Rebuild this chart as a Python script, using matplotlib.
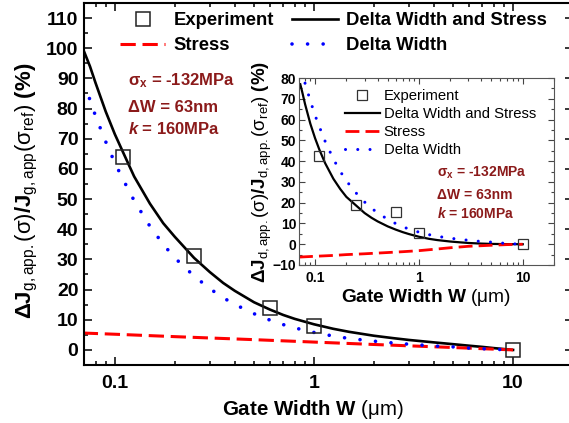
import numpy as np
import matplotlib
matplotlib.use("Agg")
import matplotlib.pyplot as plt
from matplotlib.ticker import MultipleLocator, LogLocator, FuncFormatter, NullFormatter

plt.rcParams['font.family'] = ['Liberation Sans', 'DejaVu Sans']
plt.rcParams['mathtext.fontset'] = 'custom'
plt.rcParams['mathtext.rm'] = 'Liberation Sans'
plt.rcParams['mathtext.bf'] = 'Liberation Sans:bold'
plt.rcParams['mathtext.it'] = 'Liberation Sans:italic'
plt.rcParams['mathtext.bfit'] = 'Liberation Sans:italic:bold'

# ---- main plot data (gate current) ----
main_w_exp = [0.11, 0.25, 0.6, 1.0, 10.0]
main_exp = [64, 31, 14, 8, 0]

main_w_total = [0.069, 0.075, 0.08, 0.09, 0.1, 0.11, 0.125, 0.15, 0.175, 0.2, 0.25, 0.3, 0.35, 0.4,
                0.5, 0.6, 0.7, 0.8, 1.0, 1.25, 1.5, 2.0, 2.5, 3.0, 4.0, 5.0, 6.0, 7.0, 8.0, 10.0]
main_total = [100, 94, 88.5, 79, 71.5, 65.5, 57.5, 48.5, 42, 37.5, 30.5, 25.8, 22.2, 19.6,
              15.8, 13.4, 11.6, 10.3, 8.5, 7.0, 6.0, 4.7, 3.9, 3.3, 2.5, 1.9, 1.4, 1.0, 0.6, 0]

main_w_stress = [0.069, 0.1, 0.2, 0.5, 1.0, 2.0, 5.0, 10.0]
main_stress = [5.6, 5.2, 4.4, 3.4, 2.6, 1.8, 0.8, 0]

main_w_dw = [0.069, 0.075, 0.08, 0.09, 0.1, 0.11, 0.125, 0.15, 0.175, 0.2, 0.25, 0.3, 0.35, 0.4,
             0.5, 0.6, 0.7, 0.8, 1.0, 1.25, 1.5, 2.0, 2.5, 3.0, 4.0, 5.0, 6.0, 7.0, 8.0, 10.0]
main_dw = [88, 83, 77.5, 69, 62, 56.5, 49.5, 41, 35, 30.5, 24.5, 20.3, 17.3, 15.1,
           12, 9.9, 8.4, 7.3, 5.8, 4.6, 3.8, 2.9, 2.3, 1.9, 1.3, 1.0, 0.6, 0.4, 0.2, 0]

# ---- inset data (drain current) ----
ins_w_exp = [0.11, 0.25, 0.6, 1.0, 10.0]
ins_exp = [42.6, 19, 15.5, 5.2, 0]

ins_w_total = [0.072, 0.075, 0.08, 0.09, 0.1, 0.11, 0.125, 0.15, 0.175, 0.2, 0.25, 0.3, 0.35, 0.4,
               0.5, 0.6, 0.7, 0.8, 1.0, 1.25, 1.5, 2.0, 2.5, 3.0, 4.0, 5.0, 7.0, 10.0]
ins_total = [77, 73.5, 67.5, 58, 51, 45.5, 39, 31.5, 26.5, 22.8, 18.5, 15, 12.7, 11,
             8.6, 7, 5.8, 4.9, 3.6, 2.6, 2.0, 1.3, 0.9, 0.6, 0.3, 0.15, 0.05, 0]

ins_w_stress = [0.07, 0.1, 0.15, 0.2, 0.3, 0.5, 0.7, 1.0, 1.5, 2.0, 3.0, 5.0, 7.0, 10.0]
ins_stress = [-6.2, -5.8, -5.4, -5.0, -4.6, -4.0, -3.6, -3.1, -2.3, -1.7, -1.0, -0.5, -0.2, 0]

ins_w_dw = [0.08, 0.09, 0.1, 0.11, 0.125, 0.15, 0.175, 0.2, 0.25, 0.3, 0.35, 0.4,
            0.5, 0.6, 0.7, 0.8, 1.0, 1.25, 1.5, 2.0, 2.5, 3.0, 4.0, 5.0, 6.0, 7.0, 8.0, 10.0]
ins_dw = [77.5, 69, 62, 56.5, 49.5, 41, 35, 30.5, 24.5, 20.3, 17.3, 15.1,
          12, 9.9, 8.4, 7.3, 5.8, 4.6, 3.8, 2.9, 2.3, 1.9, 1.3, 1.0, 0.6, 0.4, 0.2, 0]

dark_red = '#8B1A1A'

fig = plt.figure(figsize=(5.69, 4.23), dpi=100)
W, H = 569.0, 423.0

# main axes
ax = fig.add_axes([84 / W, 1 - 365 / H, 489 / W, 362 / H])
ax.plot(main_w_total, main_total, color='black', lw=1.9, label='Delta Width and Stress')
ax.plot(main_w_stress, main_stress, color='#FF0000', lw=2.2, dashes=(5, 2.2), label='Stress')
ax.plot(main_w_dw, main_dw, color='#0000FF', lw=2.6, dashes=(0.01, 4.3),
        dash_capstyle='round', label='Delta Width')
ax.plot(main_w_exp, main_exp, 's', ms=9.5, mfc='none', mec='#222222', mew=1.1, label='Experiment')

ax.set_xscale('log')
ax.set_xlim(0.07, 20)
ax.set_ylim(-5, 115)
ax.yaxis.set_major_locator(MultipleLocator(10))
ax.yaxis.set_minor_locator(MultipleLocator(5))
ax.xaxis.set_major_locator(LogLocator(base=10, numticks=10))
ax.xaxis.set_minor_locator(LogLocator(base=10, subs=np.arange(2, 10), numticks=10))
ax.xaxis.set_major_formatter(FuncFormatter(lambda v, p: '%g' % v))
ax.xaxis.set_minor_formatter(NullFormatter())
ax.tick_params(which='both', direction='in', top=True, right=True, width=1.1)
ax.tick_params(which='major', length=6, labelsize=14)
ax.tick_params(which='minor', length=3)
ax.tick_params(axis='x', pad=7)
ax.tick_params(axis='y', pad=4)
for lab in ax.get_xticklabels() + ax.get_yticklabels():
    lab.set_fontweight('bold')
for s in ax.spines.values():
    s.set_linewidth(1.5)

ax.set_xlabel(r'$\mathbf{Gate\ Width\ W}$ $\mathrm{(\mu m)}$', fontsize=14.8)
ax.xaxis.set_label_coords(0.468, -0.09)
ax.set_ylabel(r'$\mathbf{\Delta J}_{\mathrm{g,app.}}\mathrm{(\sigma)}\mathbf{/J}_{\mathrm{g,app}}'
              r'\mathrm{(\sigma_{ref})}$ $\mathbf{(\%)}$', fontsize=16)
ax.yaxis.set_label_coords(-0.09, 0.48)

h, l = ax.get_legend_handles_labels()
order = [3, 1, 0, 2]
ax.legend([h[i] for i in order], [l[i] for i in order], ncol=2, frameon=False,
          loc='upper left', bbox_to_anchor=(120 / W, 1 - 12 / H), bbox_transform=fig.transFigure,
          borderpad=0, borderaxespad=0, handlelength=2.45, handletextpad=0.45,
          columnspacing=1.0, labelspacing=0.45, prop={'size': 13.3, 'weight': 'bold'})

ax.text(128 / W, 1 - 81 / H, r'$\mathbf{\sigma}_{\mathbf{x}}$ = -132MPa', transform=fig.transFigure,
        color=dark_red, fontsize=12, fontweight='bold', va='center')
ax.text(128 / W, 1 - 107 / H, 'ΔW = 63nm', transform=fig.transFigure,
        color=dark_red, fontsize=12, fontweight='bold', va='center')
ax.text(128 / W, 1 - 129 / H, r'$\mathbfit{k}$ = 160MPa', transform=fig.transFigure,
        color=dark_red, fontsize=12, fontweight='bold', va='center')

# inset axes
ai = fig.add_axes([299 / W, 1 - 265 / H, 255 / W, 187 / H])
ai.plot(ins_w_total, ins_total, color='black', lw=1.6, label='Delta Width and Stress')
ai.plot(ins_w_stress, ins_stress, color='#FF0000', lw=2.0, dashes=(5, 2.2), label='Stress')
ai.plot(ins_w_dw, ins_dw, color='#0000FF', lw=2.2, dashes=(0.01, 4.0),
        dash_capstyle='round', label='Delta Width')
ai.plot(ins_w_exp, ins_exp, 's', ms=7.8, mfc='none', mec='#333333', mew=0.9, label='Experiment')

ai.set_xscale('log')
ai.set_xlim(0.07, 20)
ai.set_ylim(-10, 80)
ai.yaxis.set_major_locator(MultipleLocator(10))
ai.yaxis.set_minor_locator(MultipleLocator(5))
ai.xaxis.set_major_locator(LogLocator(base=10, numticks=10))
ai.xaxis.set_minor_locator(LogLocator(base=10, subs=np.arange(2, 10), numticks=10))
ai.xaxis.set_major_formatter(FuncFormatter(lambda v, p: '%g' % v))
ai.xaxis.set_minor_formatter(NullFormatter())
ai.tick_params(which='both', direction='in', top=True, right=True, width=0.8, color='#444444')
ai.tick_params(which='major', length=4, labelsize=10)
ai.tick_params(which='minor', length=2)
ai.tick_params(axis='x', pad=4)
ai.tick_params(axis='y', pad=2)
for lab in ai.get_xticklabels() + ai.get_yticklabels():
    lab.set_fontweight('bold')
for s in ai.spines.values():
    s.set_linewidth(0.8)
    s.set_color('#555555')

ai.set_xlabel(r'$\mathbf{Gate\ Width\ W}$ $\mathrm{(\mu m)}$', fontsize=13.8)
ai.xaxis.set_label_coords(0.5, -0.115)
ai.set_ylabel(r'$\mathbf{\Delta J}_{\mathrm{d,app.}}\mathrm{(\sigma)}\mathbf{/J}_{\mathrm{d,app.}}'
              r'\mathrm{(\sigma_{ref})}$ $\mathbf{(\%)}$', fontsize=13.5)
ai.yaxis.set_label_coords(-0.1, 0.5)

h, l = ai.get_legend_handles_labels()
order = [3, 0, 1, 2]
ai.legend([h[i] for i in order], [l[i] for i in order], frameon=False,
          loc='upper left', bbox_to_anchor=(345 / W, 1 - 89 / H), bbox_transform=fig.transFigure,
          borderpad=0, borderaxespad=0, handlelength=2.35, handletextpad=0.25,
          labelspacing=0.28, prop={'size': 10.7})

ai.text(437 / W, 1 - 173 / H, r'$\mathbf{\sigma}_{\mathbf{x}}$ = -132MPa', transform=fig.transFigure,
        color=dark_red, fontsize=10, fontweight='bold', va='center')
ai.text(437 / W, 1 - 195 / H, 'ΔW = 63nm', transform=fig.transFigure,
        color=dark_red, fontsize=10, fontweight='bold', va='center')
ai.text(437 / W, 1 - 214 / H, r'$\mathbfit{k}$ = 160MPa', transform=fig.transFigure,
        color=dark_red, fontsize=10, fontweight='bold', va='center')

fig.savefig('out.png', dpi=100)
